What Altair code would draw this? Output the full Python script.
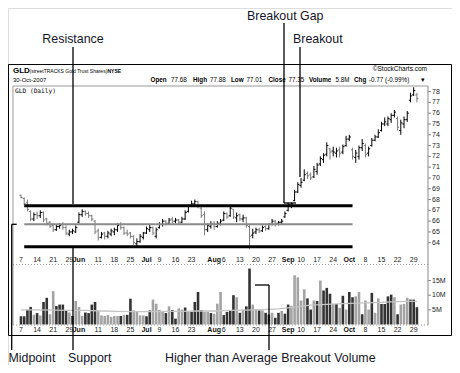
import altair as alt
import pandas as pd

# ---------------- data ----------------
highs = [68.45, 68.2, 68.0, 67.0, 66.8, 66.9, 67.0, 66.9, 66.3, 66.0,
         65.8, 65.7, 65.8, 65.9, 65.6, 65.2, 65.3, 65.6,
         66.8, 67.1, 67.0, 66.9, 66.6, 66.1, 65.3, 65.0, 65.0, 65.1, 65.3, 65.4, 65.8, 65.9, 65.5, 65.2, 65.0, 64.7, 64.4, 64.8, 65.0,
         65.5, 65.7, 65.5, 65.4, 65.9, 66.2, 66.1, 66.3, 66.4, 66.3, 66.2, 66.4, 67.0, 67.5, 67.9, 68.0, 67.9, 67.3, 66.9, 65.8, 66.0,
         66.0, 66.0, 66.2, 66.9, 66.8, 67.5, 67.1, 66.8, 66.7, 66.6, 66.4, 65.7, 65.3, 65.4, 65.4, 65.6, 65.6, 65.8, 66.2, 66.1, 66.0, 66.2, 66.9,
         67.7, 67.7, 68.9, 69.6, 70.0, 70.8, 70.6, 70.5, 71.1, 71.4, 72.0, 72.3, 73.3, 72.8, 72.9, 72.8, 72.9, 73.1, 73.9,
         74.0, 72.8, 72.6, 73.0, 73.6, 73.2, 72.9, 73.7, 74.0, 74.5, 75.2, 75.6, 75.7, 76.0, 76.3, 75.7, 75.4, 75.7, 76.2, 77.9, 78.4, 77.88]
lows = [68.1, 67.5, 66.9, 66.0, 66.0, 66.2, 66.3, 65.9, 65.6, 65.4,
        65.0, 65.1, 65.3, 65.2, 64.7, 64.6, 64.8, 64.9,
        65.8, 66.4, 66.5, 66.3, 66.0, 64.8, 64.2, 64.4, 64.3, 64.4, 64.6, 64.7, 65.0, 65.2, 64.7, 64.6, 64.4, 63.8, 63.6, 64.0, 64.3,
        64.8, 65.0, 64.7, 64.4, 65.3, 65.5, 65.6, 65.7, 65.8, 65.8, 65.7, 65.8, 66.1, 66.8, 67.3, 67.4, 67.2, 66.3, 64.7, 65.0, 65.3,
        65.2, 65.4, 65.6, 66.0, 66.2, 66.4, 66.2, 65.9, 66.0, 65.9, 65.4, 63.4, 64.4, 64.8, 64.9, 65.0, 65.1, 65.2, 65.6, 65.5, 65.6, 65.7, 66.3,
        66.9, 67.2, 67.85, 68.6, 69.1, 69.7, 69.9, 69.8, 70.0, 70.3, 71.1, 71.4, 72.0, 71.7, 72.0, 71.9, 71.9, 72.2, 72.9,
        73.4, 71.7, 71.4, 71.7, 72.5, 71.9, 72.0, 72.9, 73.4, 73.7, 74.3, 74.8, 74.8, 75.1, 75.6, 74.4, 74.0, 74.6, 75.2, 77.0, 77.6, 77.01]
opens = [68.4, 68.1, 67.7, 66.9, 66.2, 66.6, 66.5, 66.8, 66.2, 65.9,
         65.6, 65.2, 65.5, 65.7, 65.4, 64.8, 65.0, 65.0,
         65.9, 66.6, 66.9, 66.7, 66.5, 66.0, 65.1, 64.5, 64.9, 64.6, 64.8, 65.0, 65.2, 65.7, 65.4, 64.9, 64.9, 64.6, 63.9, 64.1, 64.5,
         64.9, 65.2, 65.4, 64.6, 65.4, 65.7, 66.0, 65.8, 66.2, 66.0, 66.1, 65.9, 66.2, 66.9, 67.4, 67.6, 67.8, 67.2, 66.6, 65.2, 65.5,
         65.8, 65.5, 65.8, 66.1, 66.7, 66.5, 67.1, 66.3, 66.6, 66.2, 66.3, 65.5, 64.7, 65.0, 65.2, 65.1, 65.5, 65.3, 65.7, 66.0, 65.8, 65.9, 66.4,
         67.0, 67.4, 67.9, 68.7, 69.3, 69.8, 70.4, 70.3, 70.1, 70.6, 71.3, 71.7, 72.2, 72.7, 72.5, 72.3, 72.6, 72.4, 73.0,
         73.6, 72.6, 71.9, 72.0, 72.8, 73.0, 72.3, 73.0, 73.5, 73.8, 74.4, 75.0, 75.0, 75.4, 75.8, 75.5, 74.4, 75.0, 75.4, 77.2, 77.7, 77.68]
closes = [68.2, 67.6, 67.1, 66.2, 66.6, 66.5, 66.8, 66.1, 65.8, 65.5,
          65.2, 65.5, 65.6, 65.4, 64.9, 65.0, 65.1, 65.4,
          66.6, 66.9, 66.7, 66.5, 66.2, 65.0, 64.5, 64.8, 64.6, 64.9, 65.1, 65.2, 65.6, 65.4, 64.9, 64.8, 64.6, 64.0, 64.1, 64.6, 64.9,
          65.3, 65.4, 64.9, 65.2, 65.7, 66.0, 65.8, 66.1, 66.0, 66.1, 65.9, 66.2, 66.8, 67.4, 67.6, 67.8, 67.4, 66.5, 65.2, 65.6, 65.7,
          65.5, 65.8, 66.0, 66.7, 66.4, 67.2, 66.4, 66.5, 66.2, 66.3, 65.6, 64.6, 64.9, 65.2, 65.1, 65.4, 65.3, 65.7, 66.0, 65.8, 65.9, 66.0, 66.7,
          67.5, 67.6, 68.7, 69.4, 69.6, 70.3, 70.2, 70.0, 70.8, 71.2, 71.8, 72.1, 73.0, 72.4, 72.4, 72.5, 72.3, 72.9, 73.6,
          73.8, 72.0, 72.3, 72.8, 73.2, 72.2, 72.7, 73.5, 73.8, 74.2, 75.0, 75.2, 75.5, 75.8, 76.1, 74.7, 75.1, 75.4, 76.0, 77.6, 78.1, 77.35]
volumes = [2.8, 2.8, 5.0, 6.0, 3.3, 3.9, 3.1, 7.7, 9.1, 3.5,
           11.4, 6.3, 6.8, 6.8, 4.6, 4.1, 2.9, 8.0, 6.0, 2.9,
           4.1, 3.9, 6.8, 7.7, 4.8, 3.1, 2.9, 3.3, 2.6, 2.9,
           2.9, 2.9, 3.3, 3.3, 8.8, 4.8, 4.5, 3.1, 3.1, 2.8,
           4.8, 8.5, 7.1, 5.0,
           4.3, 3.9, 6.2, 4.9, 2.0, 5.5, 5.1, 5.8, 4.3, 4.3,
           7.7, 11.1, 4.9, 4.3, 4.3, 3.9, 3.7, 7.1, 11.1, 3.2, 4.3,
           4.8, 10.0, 9.3, 4.0, 5.1, 6.2, 19.1, 6.8, 5.3, 4.8,
           4.8, 4.0, 3.4, 4.0, 2.3, 4.0, 4.6, 3.7, 6.8, 6.4,
           16.8, 16.1, 8.2, 12.0, 8.9, 5.1, 8.2, 8.0, 15.0, 11.6,
           12.5, 10.5, 7.0, 7.0, 5.7, 9.8, 5.1, 11.1, 9.3, 9.6,
           11.1, 3.5, 8.2, 5.1, 10.8, 4.0, 8.9, 7.0, 7.0, 9.6,
           10.2, 9.3, 3.5, 6.8, 7.0, 9.1, 8.5, 8.5, 5.9]
# d = dark (black) volume bar, l = light (grey) volume bar
vol_shade = list("ddddldlddl" "lddddldlll" "ddddllllll" "ldlddlllld" "dlll"
                 "ldlddlldld" "dddlldllldd"
                 "ddldlddlld" "lddlddlddl" "llllddldld" "ddldldlddl" "ldlldlldd" "ddldlllddd")
ma_idx = [0, 5, 10, 15, 20, 25, 30, 35, 40, 45, 50, 55, 60, 65, 70, 75, 80, 85, 90, 95, 100, 105, 110, 115, 120, 123]
ma_vol = [5.0, 5.0, 4.9, 4.8, 4.8, 4.6, 4.5, 4.4, 4.4, 4.5, 4.5, 4.6, 4.6, 4.8, 4.9, 5.1, 5.3, 5.9, 6.6, 6.9, 7.1, 7.3, 7.5, 7.7, 7.9, 7.9]
x_tick_idx = [0, 5, 10, 15, 18, 24, 29, 34, 39, 43, 48, 53, 60, 63, 68, 73, 78, 83, 87, 92, 97, 102, 107, 112, 117, 122]
x_tick_lbl = ["7", "14", "21", "29", "Jun", "11", "18", "25", "Jul", "9", "16", "23", "Aug", "6",
              "13", "20", "27", "Sep", "10", "17", "24", "Oct", "8", "15", "22", "29"]
price_ticks = list(range(64, 79))
vol_ticks = [5, 10, 15]
vol_tick_lbl = ["5M", "10M", "15M"]
resistance, midpoint, support = 67.43, 65.71, 63.63
level_start, level_end = 1, 103

# ---------------- tables ----------------
n = len(closes)
pdf = pd.DataFrame({"i": range(n), "open": opens, "high": highs, "low": lows, "close": closes})
prev = pdf["close"].shift(1).fillna(pdf["open"])
pdf["pc"] = ["#000000" if c >= p else "#7a7a7a" for c, p in zip(pdf["close"], prev)]
vs = (vol_shade + ["d"] * n)[:n]
vdf = pd.DataFrame({"i": range(n), "vol": volumes, "vc": ["#333333" if s == "d" else "#a3a3a3" for s in vs]})
madf = pd.DataFrame({"i": ma_idx, "ma": ma_vol})
xt = pd.DataFrame({"i": x_tick_idx, "lbl": x_tick_lbl, "month": [l.isalpha() for l in x_tick_lbl]})
pt = pd.DataFrame({"p": price_ticks, "lbl": [str(p) for p in price_ticks]})
vt = pd.DataFrame({"v": vol_ticks, "lbl": vol_tick_lbl})
lev = pd.DataFrame({"y": [resistance, midpoint, support], "x1": [level_start] * 3, "x2": [level_end] * 3,
                    "col": ["#000000", "#8a8a8a", "#000000"], "w": [3, 2, 3]})
one = pd.DataFrame({"k": [0]})

ANN = "Liberation Sans, Arial, sans-serif"
ANN_SIZE = 12.4
SMALL = "Liberation Sans, Arial, sans-serif"
ANN_COL = "#15152a"

X = alt.Scale(domain=[0, 123], range=[8, 413.9], nice=False, zero=False)
YP = alt.Scale(domain=[62.77, 78.52], range=[248, 78], nice=False, zero=False)
YV = alt.Scale(domain=[0, 20], range=[316.5, 257.9], nice=False, zero=False)


def xi(f="i"):
    return alt.X(f"{f}:Q", scale=X, axis=None)


def yp(f):
    return alt.Y(f"{f}:Q", scale=YP, axis=None)


def yv(f):
    return alt.Y(f"{f}:Q", scale=YV, axis=None)


# ---------------- price panel ----------------
hl = alt.Chart(pdf).mark_rule(strokeWidth=1).encode(x=xi(), y=yp("low"), y2="high:Q", color=alt.Color("pc:N", scale=None))
ot = alt.Chart(pdf).mark_rule(strokeWidth=1, x2Offset=-1.6).encode(x=xi(), x2="i:Q", y=yp("open"), color=alt.Color("pc:N", scale=None))
ct = alt.Chart(pdf).mark_rule(strokeWidth=1, x2Offset=1.6).encode(x=xi(), x2="i:Q", y=yp("close"), color=alt.Color("pc:N", scale=None))
lv = alt.Chart(lev).mark_rule().encode(x=xi("x1"), x2="x2:Q", y=yp("y"), color=alt.Color("col:N", scale=None),
                                       strokeWidth=alt.StrokeWidth("w:Q", scale=None))
ptick = alt.Chart(pt).mark_rule(color="#888888", strokeWidth=1).encode(x=alt.value(420), x2=alt.value(423), y=yp("p"))
plab = alt.Chart(pt).mark_text(align="left", baseline="middle", fontSize=7, font=SMALL, color="#222222").encode(
    x=alt.value(424), y=yp("p"), text="lbl:N")


def xlabels(row_y):
    day = alt.Chart(xt).transform_filter("!datum.month").mark_text(
        fontSize=7, font=SMALL, color="#222222", baseline="middle").encode(x=xi(), y=alt.value(row_y), text="lbl:N")
    mon = alt.Chart(xt).transform_filter("datum.month").mark_text(
        fontSize=7, font=SMALL, fontWeight="bold", color="#111111", baseline="middle").encode(x=xi(), y=alt.value(row_y), text="lbl:N")
    return [day, mon]


price_group = alt.layer(hl, ot, ct, lv, ptick, plab, *xlabels(252))

# ---------------- volume panel ----------------
vb = alt.Chart(vdf).mark_bar(size=2.6).encode(x=xi(), y=yv("vol"), y2=alt.datum(0), color=alt.Color("vc:N", scale=None))
mal = alt.Chart(madf).mark_line(color="#c4c4c4", strokeWidth=1.3).encode(x=xi(), y=yv("ma"))
vtick = alt.Chart(vt).mark_rule(color="#888888", strokeWidth=1).encode(x=alt.value(420), x2=alt.value(423), y=yv("v"))
vlab = alt.Chart(vt).mark_text(align="left", baseline="middle", fontSize=7, font=SMALL, color="#222222").encode(
    x=alt.value(424), y=yv("v"), text="lbl:N")
vol_group = alt.layer(vb, mal, vtick, vlab, *xlabels(322))


# ---------------- frame, header and call-outs ----------------
def seg(x1, y1, x2, y2, color="#000000", w=1.0, dash=None):
    kw = {"color": color, "strokeWidth": w}
    if dash:
        kw["strokeDash"] = dash
    return alt.Chart(one).mark_rule(**kw).encode(x=alt.value(x1), x2=alt.value(x2), y=alt.value(y1), y2=alt.value(y2))


def txt(x, y, s, size, weight="normal", font=SMALL, align="left", color="#000000"):
    return alt.Chart(one).mark_text(text=s, fontSize=size, fontWeight=weight, font=font, align=align,
                                    baseline="alphabetic", color=color).encode(x=alt.value(x), y=alt.value(y))


HS = 6.3
HY = 73.5
deco = [
    # outer frame
    alt.Chart(one).mark_rect(fillOpacity=0, stroke="#000000", strokeWidth=1).encode(
        x=alt.value(0.5), x2=alt.value(443.5), y=alt.value(56.5), y2=alt.value(327.5)),
    # plot borders
    seg(5, 78, 5, 317, "#9a9a9a"),
    seg(420, 78, 420, 317, "#8a8a8a"),
    seg(5, 78, 420, 78, "#9a9a9a"),
    seg(5, 256.5, 420, 256.5, "#9a9a9a", 1, [1, 2]),
    seg(5, 317, 420, 317, "#9a9a9a", 1, [1, 2]),
    # header
    txt(5, 65, "GLD", 8, "bold"),
    txt(21.5, 65, "(streetTRACKS Gold Trust Shares)", 5.0),
    txt(99.5, 65, "NYSE", 5.0, "bold"),
    txt(5, 73.5, "30-Oct-2007", 6.0),
    txt(419, 63, "\u00a9StockCharts.com", 6.5, align="right"),
    txt(142.5, HY, "Open", HS, "bold"), txt(163, HY, "77.68", HS),
    txt(185, HY, "High", HS, "bold"), txt(202, HY, "77.88", HS),
    txt(223, HY, "Low", HS, "bold"), txt(238.5, HY, "77.01", HS),
    txt(260.5, HY, "Close", HS, "bold"), txt(280.5, HY, "77.35", HS),
    txt(301, HY, "Volume", HS, "bold"), txt(327.5, HY, "5.8M", HS),
    txt(346, HY, "Chg", HS, "bold"), txt(361, HY, "-0.77 (-0.99%)", HS),
    txt(413, HY, "\u25be", 7),
    txt(7, 85, "GLD (Daily)", 6.2, font="DejaVu Sans Mono, monospace"),
    # call-out texts
    txt(65, 35, "Resistance", ANN_SIZE, font=ANN, align="center", color=ANN_COL),
    txt(239, 11.5, "Breakout Gap", ANN_SIZE, font=ANN, color=ANN_COL),
    txt(285, 35, "Breakout", ANN_SIZE, font=ANN, color=ANN_COL),
    txt(0.5, 353.5, "Midpoint", ANN_SIZE, font=ANN, color=ANN_COL),
    txt(60, 353.5, "Support", ANN_SIZE, font=ANN, color=ANN_COL),
    txt(157, 353.5, "Higher than Average Breakout Volume", ANN_SIZE, font=ANN, color=ANN_COL),
    # call-out connectors
    seg(65, 39, 65, 196, w=1.3),
    seg(276, 15, 276, 195, w=1.3), seg(276, 195, 288, 195, w=1.3),
    seg(292, 39, 292, 169, w=1.3),
    seg(3.7, 216.3, 3.7, 342, w=1.3), seg(3.7, 216.3, 8.7, 216.3, w=1.3),
    seg(65, 240, 65, 342, w=1.3),
    seg(261, 277, 261, 342, w=1.3), seg(247, 277, 261, 277, w=1.3),
]

chart = alt.layer(price_group, vol_group, *deco).resolve_scale(y="independent").properties(
    width=444, height=357, autosize=alt.AutoSizeParams(type="none"), padding=0
).configure_view(strokeWidth=0).configure(background="white")

chart.save("out.html", embed_options={"renderer": "svg", "actions": False})
